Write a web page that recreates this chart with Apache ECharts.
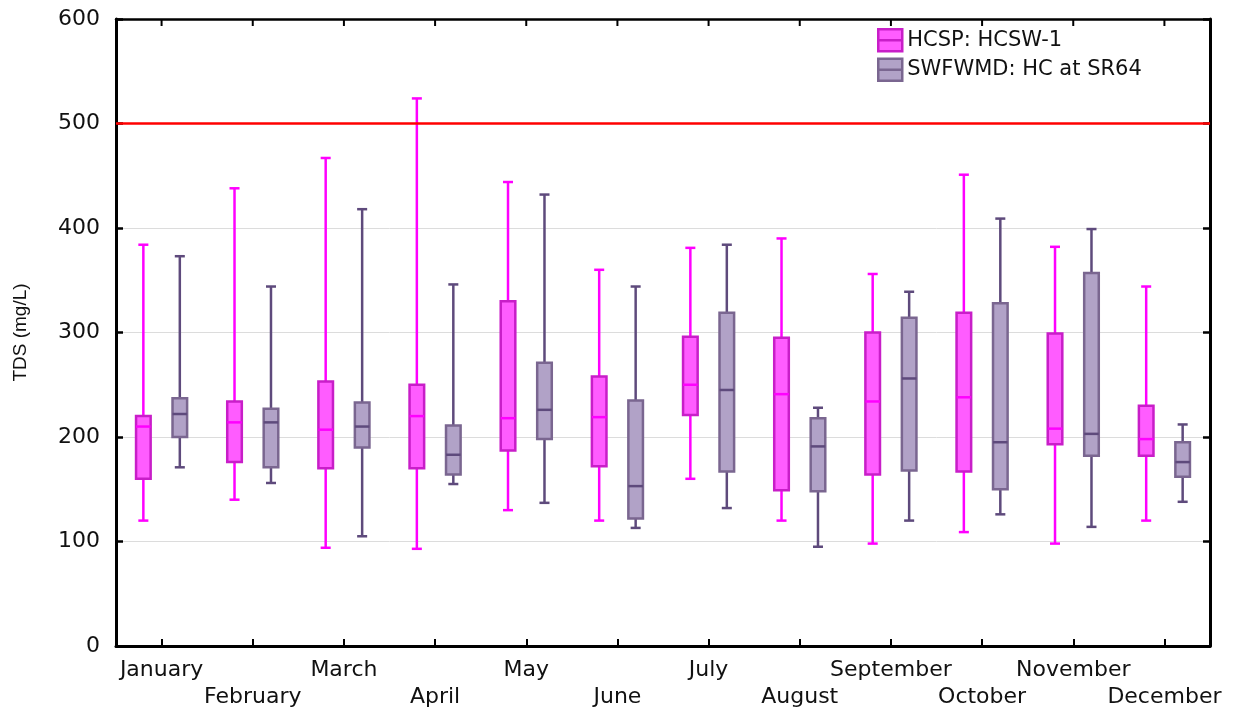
<!DOCTYPE html>
<html>
<head>
<meta charset="utf-8">
<script src="https://cdn.jsdelivr.net/npm/echarts@6/dist/echarts.min.js"></script>
<style>
html,body{margin:0;padding:0;background:#fff;}
#chart{width:1239px;height:710px;}
</style>
</head>
<body>
<div id="chart"></div>
<script>
// Categories
const months = ['January','February','March','April','May','June','July','August','September','October','November','December'];
// Series stats per month: [min, Q1, median, Q3, max]
const hcspStats = [
  [120,160,210,220,384],
  [140,176,214,234,438],
  [94,170,207,253,467],
  [93,170,220,250,524],
  [130,187,218,330,444],
  [120,172,219,258,360],
  [160,221,250,296,381],
  [120,149,241,295,390],
  [98,164,234,300,356],
  [109,167,238,319,451],
  [98,193,208,299,382],
  [120,182,198,230,344]
];
const swfwmdStats = [
  [171,200,222,237,373],
  [156,171,214,227,344],
  [105,190,210,233,418],
  [155,164,183,211,346],
  [137,198,226,271,432],
  [113,122,153,235,344],
  [132,167,245,319,384],
  [95,148,191,218,228],
  [120,168,256,314,339],
  [126,150,195,328,409],
  [114,182,203,357,399],
  [138,162,176,195,212]
];
const seriesNames = ['HCSP: HCSW-1','SWFWMD: HC at SR64'];
const limitValue = 500;
const yTicks = [0,100,200,300,400,500,600];

const FONT = 'DejaVu Sans';
const pinkStyle = {fill:'#ff5cff', stroke:'#c81ec8', median:'#ff00ff', whisker:'#ff00ff'};
const grayStyle = {fill:'#b1a2c7', stroke:'#7a6690', median:'#5e4a7c', whisker:'#5e4a7c'};

function makeRender(off, st) {
  return function (params, api) {
    const i = api.value(0);
    const band = api.size([1, 0])[0];
    const x = api.coord([i, 0])[0] + off * band;
    const yMin = api.coord([i, api.value(1)])[1];
    const yQ1 = api.coord([i, api.value(2)])[1];
    const yMed = api.coord([i, api.value(3)])[1];
    const yQ3 = api.coord([i, api.value(4)])[1];
    const yMax = api.coord([i, api.value(5)])[1];
    const hw = band * 0.08;
    const cw = band * 0.055;
    const wl = {stroke: st.whisker, lineWidth: 2.5};
    return {
      type: 'group',
      children: [
        {type:'line', shape:{x1:x,y1:yMax,x2:x,y2:yQ3}, style:wl},
        {type:'line', shape:{x1:x,y1:yQ1,x2:x,y2:yMin}, style:wl},
        {type:'line', shape:{x1:x-cw,y1:yMax,x2:x+cw,y2:yMax}, style:wl},
        {type:'line', shape:{x1:x-cw,y1:yMin,x2:x+cw,y2:yMin}, style:wl},
        {type:'rect', shape:{x:x-hw,y:yQ3,width:2*hw,height:yQ1-yQ3}, style:{fill:st.fill, stroke:st.stroke, lineWidth:2.5}},
        {type:'line', shape:{x1:x-hw,y1:yMed,x2:x+hw,y2:yMed}, style:{stroke:st.median, lineWidth:2.5}}
      ]
    };
  };
}

// Top-frame ticks at each category centre, placed through the axes' own scales
function renderTopTick(params, api) {
  const p = api.coord([api.value(0), yTicks[yTicks.length - 1]]);
  return {
    type: 'line',
    shape: {x1: p[0], y1: p[1], x2: p[0], y2: p[1] + 7},
    style: {stroke: '#000', lineWidth: 2}
  };
}

const chart = echarts.init(document.getElementById('chart'), null, {renderer:'canvas'});
const option = {
  animation: false,
  backgroundColor: '#ffffff',
  grid: {left:116, right:29, top:19, bottom:64, containLabel:false, outerBoundsMode:'none'},
  legend: {
    orient: 'vertical',
    left: 877,
    top: 28,
    padding: 0,
    itemWidth: 24,
    itemHeight: 22,
    itemGap: 5,
    textStyle: {fontFamily: FONT, fontSize: 21, color: '#111', lineHeight: 22},
    data: [
      {name: seriesNames[0], icon: 'path://M0,0H24V22H0Z M0,11H24', itemStyle:{color:pinkStyle.fill, borderColor:pinkStyle.stroke, borderWidth:2.5}},
      {name: seriesNames[1], icon: 'path://M0,0H24V22H0Z M0,11H24', itemStyle:{color:grayStyle.fill, borderColor:grayStyle.stroke, borderWidth:2.5}}
    ]
  },
  xAxis: [
    {
      type: 'category',
      data: months,
      position: 'bottom',
      boundaryGap: true,
      axisLine: {show:true, lineStyle:{color:'#000', width:3}},
      axisTick: {show:true, inside:true, alignWithLabel:true, interval:0, length:7, lineStyle:{color:'#000', width:2}},
      axisLabel: {
        interval: 0,
        margin: 11,
        fontFamily: FONT,
        fontSize: 22,
        color: '#111',
        lineHeight: 27,
        formatter: function (v, i) { return i % 2 ? '\n' + v : v; }
      },
      splitLine: {show:false}
    },
    {
      type: 'category',
      data: months,
      position: 'top',
      boundaryGap: true,
      axisLine: {show:true, onZero:false, lineStyle:{color:'#000', width:2.5}},
      axisTick: {show:false},
      axisLabel: {show:false},
      splitLine: {show:false}
    }
  ],
  yAxis: [
    {
      type: 'value',
      min: yTicks[0],
      max: yTicks[yTicks.length-1],
      interval: 100,
      position: 'left',
      name: 'TDS (mg/L)',
      nameLocation: 'middle',
      nameRotate: 90,
      nameGap: 86,
      nameTextStyle: {fontFamily:'Liberation Sans', fontSize:19, color:'#111'},
      axisLine: {show:true, onZero:false, lineStyle:{color:'#000', width:3}},
      axisTick: {show:true, inside:true, length:7, lineStyle:{color:'#000', width:2.5}},
      axisLabel: {margin:16, fontFamily:FONT, fontSize:22, color:'#111'},
      splitLine: {show:true, lineStyle:{color:'#dcdcdc', width:1}}
    },
    {
      type: 'value',
      min: yTicks[0],
      max: yTicks[yTicks.length-1],
      interval: 100,
      position: 'right',
      axisLine: {show:true, onZero:false, lineStyle:{color:'#000', width:3}},
      axisTick: {show:true, inside:true, length:7, lineStyle:{color:'#000', width:2.5}},
      axisLabel: {show:false},
      splitLine: {show:false}
    }
  ],
  series: [
    {
      name: seriesNames[0],
      type: 'custom',
      xAxisIndex: 0,
      yAxisIndex: 0,
      itemStyle: {color: pinkStyle.fill},
      renderItem: makeRender(-0.2, pinkStyle),
      encode: {x: 0, y: [1,2,3,4,5]},
      data: hcspStats.map(function (s, i) { return [i].concat(s); }),
      markLine: {
        silent: true,
        symbol: ['none','none'],
        label: {show:false},
        lineStyle: {color:'#ff0000', width:2.5, type:'solid'},
        data: [{yAxis: limitValue}]
      },
      z: 3
    },
    {
      name: seriesNames[1],
      type: 'custom',
      xAxisIndex: 0,
      yAxisIndex: 0,
      itemStyle: {color: grayStyle.fill},
      renderItem: makeRender(0.2, grayStyle),
      encode: {x: 0, y: [1,2,3,4,5]},
      data: swfwmdStats.map(function (s, i) { return [i].concat(s); }),
      z: 3
    },
    {
      name: 'topTicks',
      type: 'custom',
      silent: true,
      xAxisIndex: 0,
      yAxisIndex: 0,
      renderItem: renderTopTick,
      encode: {x: 0},
      data: months.map(function (m, i) { return [i]; }),
      z: 4
    }
  ]
};
chart.setOption(option);
</script>
</body>
</html>
